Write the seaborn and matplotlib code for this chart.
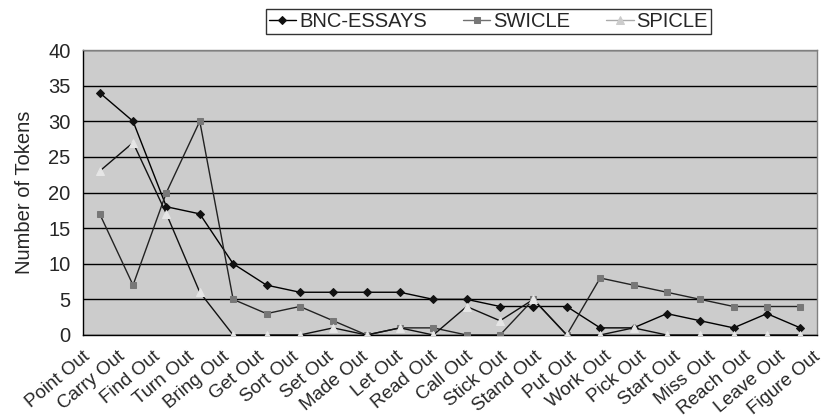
import numpy as np
import pandas as pd
import matplotlib
matplotlib.use("Agg")
import matplotlib.pyplot as plt
import matplotlib.transforms as mtransforms
import seaborn as sns

categories = ["Point Out", "Carry Out", "Find Out", "Turn Out", "Bring Out", "Get Out",
              "Sort Out", "Set Out", "Made Out", "Let Out", "Read Out", "Call Out",
              "Stick Out", "Stand Out", "Put Out", "Work Out", "Pick Out", "Start Out",
              "Miss Out", "Reach Out", "Leave Out", "Figure Out"]
bnc_essays = [34, 30, 18, 17, 10, 7, 6, 6, 6, 6, 5, 5, 4, 4, 4, 1, 1, 3, 2, 1, 3, 1]
swicle = [17, 7, 20, 30, 5, 3, 4, 2, 0, 1, 1, 0, 0, 5, 0, 8, 7, 6, 5, 4, 4, 4]
spicle = [23, 27, 17, 6, 0, 0, 0, 1, 0, 1, 0, 4, 2, 5, 0, 0, 1, 0, 0, 0, 0, 0]
y_ticks = [0, 5, 10, 15, 20, 25, 30, 35, 40]

sns.set_style("white")
plt.rcParams['font.family'] = ['Liberation Sans', 'DejaVu Sans']

fig = plt.figure(figsize=(8.25, 4.2), dpi=100)
ax = fig.add_axes([83 / 825, 85 / 420, 734 / 825, 285 / 420])
ax.set_facecolor("#cccccc")

# series: name, values, marker, marker colour, line colour, marker size
series = [
    ("BNC-ESSAYS", bnc_essays, "D", "#111111", "#000000", 4.5),
    ("SWICLE", swicle, "s", "#777777", "#222222", 5),
    ("SPICLE", spicle, "^", "#e6e6e6", "#111111", 6),
]
x = np.arange(len(categories))
for name, vals, mk, mc, lc, ms in series:
    sns.lineplot(x=x, y=vals, ax=ax, color=lc, linewidth=1, marker=mk,
                 markersize=ms, markerfacecolor=mc, markeredgecolor=mc,
                 label=name, sort=False, zorder=3)

ax.set_xlim(-0.5, len(categories) - 0.5)
ax.set_ylim(0, 40)
ax.set_yticks(y_ticks)
ax.yaxis.grid(True, color="black", linewidth=1)
ax.set_axisbelow(True)

# bin-edge ticks, labels at centres
ax.set_xticks(np.arange(len(categories) + 1) - 0.5)
ax.set_xticklabels([])
ax.set_xticks(x, minor=True)
ax.set_xticklabels(categories, minor=True, rotation=40, ha="right", va="center",
                   rotation_mode="anchor", fontsize=13.5)
ax.tick_params(axis="x", which="minor", length=0, pad=14)
ax.tick_params(axis="x", which="major", length=5, width=1, color="black", direction="out")
ax.tick_params(axis="y", length=6, width=1, color="black", direction="out", labelsize=14.5, pad=3)

# Excel spreads the rotated labels a little wider than the categories
for i, lbl in enumerate(ax.get_xticklabels(minor=True)):
    dx = (-11.7 + 1.4 * i) / 100
    lbl.set_transform(lbl.get_transform() + mtransforms.ScaledTranslation(dx, 0, fig.dpi_scale_trans))

for s in ["left", "bottom"]:
    ax.spines[s].set_color("black")
    ax.spines[s].set_linewidth(1)
for s in ["top", "right"]:
    ax.spines[s].set_color("#808080")
    ax.spines[s].set_linewidth(1)

ax.set_xlabel("")
ax.set_ylabel("Number of Tokens", fontsize=14.5, labelpad=10)

ax.get_legend().remove()
handles, labels = ax.get_legend_handles_labels()
leg = fig.legend(handles, labels, loc="upper right", bbox_to_anchor=(711 / 825, 1 - 9 / 420),
                 ncol=3, frameon=True, fancybox=False, edgecolor="black",
                 fontsize=14.5, handlelength=1.35, handletextpad=0.15, columnspacing=1.8,
                 borderpad=0.15, borderaxespad=0)
leg.get_frame().set_linewidth(1)
# legend lines look lighter for the grey series
leg.get_lines()[1].set_color("#707070")
leg.get_lines()[2].set_color("#aaaaaa")
leg.get_lines()[2].set_markeredgecolor("#cccccc")
leg.get_lines()[2].set_markerfacecolor("#cccccc")

fig.savefig("out.png", dpi=100)
